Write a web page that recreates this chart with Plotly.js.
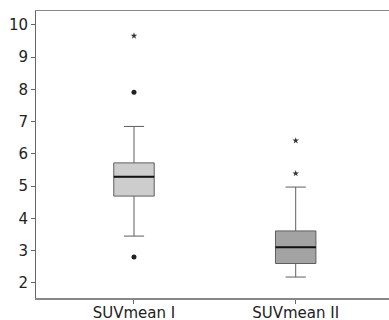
<!DOCTYPE html>
<html>
<head>
<meta charset="utf-8">
<script src="https://cdn.plot.ly/plotly-3.0.1.min.js"></script>
<style>html,body{margin:0;padding:0;background:#fff;overflow:hidden;}#chart{width:389px;height:320px;}</style>
</head>
<body>
<div id="chart"></div>
<script>
// Data
var categories = ["SUVmean I", "SUVmean II"];
var lowerWhisker = [3.45, 2.18];
var q1Values = [4.69, 2.60];
var medianValues = [5.29, 3.10];
var q3Values = [5.72, 3.61];
var upperWhisker = [6.85, 4.97];
// outliers: circles (mild) and stars (extreme)
var circleOutlierCat = [0, 0];
var circleOutlierVal = [2.80, 7.91];
var starOutlierCat = [0, 1, 1];
var starOutlierVal = [9.66, 5.39, 6.41];
var yTicks = [2, 3, 4, 5, 6, 7, 8, 9, 10];

var fills = ["#cdcdcd", "#a3a3a3"];
var boxWidth = 0.25;
var traces = [];
categories.forEach(function (c, i) {
  traces.push({
    type: "box",
    x: [i],
    q1: [q1Values[i]],
    median: [medianValues[i]],
    q3: [q3Values[i]],
    lowerfence: [lowerWhisker[i]],
    upperfence: [upperWhisker[i]],
    width: boxWidth,
    whiskerwidth: 0.5,
    fillcolor: fills[i],
    line: { color: "#5e5e5e", width: 1 },
    boxpoints: false,
    hoverinfo: "skip",
    showlegend: false
  });
  traces.push({
    type: "scatter",
    mode: "lines",
    x: [i - boxWidth / 2, i + boxWidth / 2],
    y: [medianValues[i], medianValues[i]],
    line: { color: "#111", width: 2 },
    hoverinfo: "skip",
    showlegend: false
  });
});
traces.push({
  type: "scatter",
  mode: "markers",
  x: circleOutlierCat,
  y: circleOutlierVal,
  marker: { symbol: "circle", size: 5, color: "#222" },
  showlegend: false
});
traces.push({
  type: "scatter",
  mode: "markers",
  x: starOutlierCat,
  y: starOutlierVal,
  marker: { symbol: "star", size: 5, color: "#333" },
  showlegend: false
});

var layout = {
  width: 389,
  height: 320,
  margin: { l: 36, r: 0, t: 11, b: 22, pad: 0 },
  paper_bgcolor: "#fff",
  plot_bgcolor: "#fff",
  font: { family: "DejaVu Sans, sans-serif", size: 15, color: "#222" },
  showlegend: false,
  xaxis: {
    range: [-0.606, 1.577],
    tickvals: [0, 1],
    ticktext: categories,
    ticks: "outside",
    ticklen: 4,
    tickcolor: "#666",
    ticklabelstandoff: -4,
    showgrid: false,
    zeroline: false,
    showline: true,
    mirror: true,
    linecolor: "#888",
    linewidth: 1.5,
    fixedrange: true
  },
  yaxis: {
    range: [1.53, 10.43],
    tickvals: yTicks,
    ticktext: yTicks.map(String),
    ticks: "outside",
    ticklen: 4,
    tickcolor: "#666",
    showgrid: false,
    zeroline: false,
    showline: true,
    linecolor: "#666",
    linewidth: 1,
    fixedrange: true
  }
};
Plotly.newPlot("chart", traces, layout, { staticPlot: true, displayModeBar: false });
</script>
</body>
</html>
